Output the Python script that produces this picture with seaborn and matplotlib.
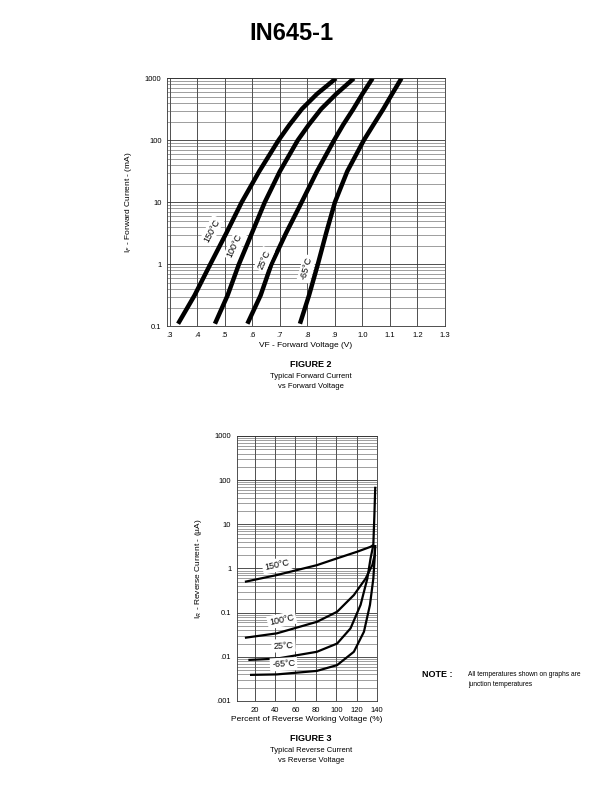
import matplotlib
matplotlib.use('Agg')
import matplotlib.pyplot as plt
import matplotlib.ticker as mticker
import seaborn as sns
import pandas as pd

# Figure 2: forward current vs forward voltage
fwd_temps = ['150°C', '100°C', '25°C', '-65°C']
fwd_current = [0.11, 0.316, 1, 3.16, 10, 31.6, 100, 178, 320, 560, 1000]
fwd_v = {
    '150°C': [0.330, 0.39, 0.447, 0.505, 0.561, 0.625, 0.695, 0.735, 0.78, 0.835, 0.904],
    '100°C': [0.464, 0.51, 0.551, 0.598, 0.645, 0.70, 0.765, 0.805, 0.85, 0.905, 0.969],
    '25°C': [0.582, 0.63, 0.669, 0.722, 0.779, 0.835, 0.897, 0.93, 0.967, 1.0, 1.037],
    '-65°C': [0.773, 0.806, 0.838, 0.868, 0.90, 0.945, 1.005, 1.04, 1.076, 1.108, 1.142],
}
fwd_i = {t: fwd_current for t in fwd_temps}
fwd_xticks = [0.3, 0.4, 0.5, 0.6, 0.7, 0.8, 0.9, 1.0, 1.1, 1.2, 1.3]
fwd_xticklabels = ['.3', '.4', '.5', '.6', '.7', '.8', '.9', '1.0', '1.1', '1.2', '1.3']
fwd_yticks = [0.1, 1, 10, 100, 1000]
fwd_yticklabels = ['0.1', '1', '10', '100', '1000']
fwd_label_pos = {'150°C': (0.452, 3.5, 62), '100°C': (0.536, 2.0, 65),
                 '25°C': (0.643, 1.19, 66), '-65°C': (0.797, 0.85, 74)}

# Figure 3: reverse current vs percent of reverse working voltage
rev_pct = {
    '150°C': [10.4, 41.7, 81, 100.9, 120.6, 133.7, 136.4],
    '100°C': [10.4, 41.7, 81, 100.9, 117.3, 128.8, 135.4, 137.7, 138.2],
    '25°C': [13.8, 41.7, 81, 100.9, 114, 123.9, 130.5, 133.7, 136.4, 137.4, 138.3],
    '-65°C': [15.4, 41.7, 81, 100.9, 117.3, 127.2, 133.1, 136.4, 137.7, 138.2],
}
rev_i = {
    '150°C': [0.50, 0.71, 1.19, 1.7, 2.4, 3.1, 3.4],
    '100°C': [0.027, 0.034, 0.062, 0.105, 0.25, 0.59, 1.19, 2.0, 3.4],
    '25°C': [0.0085, 0.0091, 0.013, 0.020, 0.044, 0.15, 0.59, 1.7, 3.4, 15, 71],
    '-65°C': [0.0039, 0.0040, 0.0048, 0.0065, 0.013, 0.037, 0.15, 0.59, 1.7, 3.4],
}
rev_xticks = [20, 40, 60, 80, 100, 120, 140]
rev_yticks = [0.001, 0.01, 0.1, 1, 10, 100, 1000]
rev_yticklabels = ['.001', '.01', '0.1', '1', '10', '100', '1000']
rev_label_pos = {'150°C': (41.7, 1.19, 12), '100°C': (46.6, 0.068, 12),
                 '25°C': (48.3, 0.018, 3), '-65°C': (48.3, 0.0068, 3)}

sns.set_style('white')
plt.rcParams['font.family'] = ['Liberation Sans', 'DejaVu Sans']
plt.rcParams['text.color'] = 'black'
plt.rcParams['axes.labelcolor'] = 'black'
plt.rcParams['xtick.color'] = 'black'
plt.rcParams['ytick.color'] = 'black'
plt.rcParams['lines.solid_joinstyle'] = 'round'
plt.rcParams['lines.solid_capstyle'] = 'butt'


def long_df(xs, ys, xname, yname):
    rows = []
    for t in fwd_temps:
        for x, y in zip(xs[t], ys[t]):
            rows.append({xname: x, yname: y, 'temp': t})
    return pd.DataFrame(rows)


def style_log_axes(ax):
    ax.set_yscale('log')
    ax.yaxis.set_minor_locator(mticker.LogLocator(base=10, subs=range(2, 10)))
    ax.yaxis.set_minor_formatter(mticker.NullFormatter())
    ax.grid(True, which='major', axis='both', color='#333333', lw=0.6)
    ax.grid(True, which='minor', axis='y', color='#555555', lw=0.4)
    ax.tick_params(axis='both', which='both', length=0, labelsize=5.5, pad=4)
    for s in ax.spines.values():
        s.set_color('#333333')
        s.set_linewidth(0.6)


fig = plt.figure(figsize=(6.12, 7.92), dpi=100)
fig.text(0.477, 0.958, 'IN645-1', ha='center', va='center', fontsize=17, fontweight='bold')

# top chart
ax1 = fig.add_axes([0.273, 0.588, 0.454, 0.3131])
df1 = long_df(fwd_v, fwd_i, 'v', 'i')
sns.lineplot(data=df1, x='v', y='i', units='temp', estimator=None, sort=False,
             color='black', lw=3.2, ax=ax1, legend=False)
style_log_axes(ax1)
ax1.set_xlim(0.29, 1.3)
ax1.set_ylim(0.1, 1000)
ax1.set_xticks(fwd_xticks)
ax1.set_xticklabels(fwd_xticklabels)
ax1.set_yticks(fwd_yticks)
ax1.set_yticklabels(fwd_yticklabels)
ax1.set_xlabel('VF - Forward Voltage (V)', fontsize=6, labelpad=2)
ax1.set_ylabel('I$_F$ - Forward Current - (mA)', fontsize=6, labelpad=8)
for t, (x, y, r) in fwd_label_pos.items():
    ax1.text(x, y, t, rotation=r, fontsize=6.5, ha='center', va='center',
             bbox=dict(facecolor='white', edgecolor='none', pad=1.5))

fig.text(0.508, 0.540, 'FIGURE 2', ha='center', va='center', fontsize=6.5, fontweight='bold')
fig.text(0.508, 0.525, 'Typical Forward Current', ha='center', va='center', fontsize=5.5)
fig.text(0.508, 0.512, 'vs Forward Voltage', ha='center', va='center', fontsize=5.5)

# bottom chart
ax2 = fig.add_axes([0.387, 0.1149, 0.229, 0.3346])
df2 = long_df(rev_pct, rev_i, 'pct', 'i')
sns.lineplot(data=df2, x='pct', y='i', units='temp', estimator=None, sort=False,
             color='black', lw=1.6, ax=ax2, legend=False)
style_log_axes(ax2)
ax2.set_xlim(2.5, 140)
ax2.set_ylim(0.001, 1000)
ax2.set_xticks(rev_xticks)
ax2.set_yticks(rev_yticks)
ax2.set_yticklabels(rev_yticklabels)
ax2.set_xlabel('Percent of Reverse Working Voltage (%)', fontsize=6, labelpad=2)
ax2.set_ylabel('I$_R$ - Reverse Current - (µA)', fontsize=6, labelpad=8)
for t, (x, y, r) in rev_label_pos.items():
    ax2.text(x, y, t, rotation=r, fontsize=6.5, ha='center', va='center',
             bbox=dict(facecolor='white', edgecolor='none', pad=1.5))

fig.text(0.508, 0.067, 'FIGURE 3', ha='center', va='center', fontsize=6.5, fontweight='bold')
fig.text(0.508, 0.053, 'Typical Reverse Current', ha='center', va='center', fontsize=5.5)
fig.text(0.508, 0.040, 'vs Reverse Voltage', ha='center', va='center', fontsize=5.5)

fig.text(0.689, 0.148, 'NOTE :', ha='left', va='center', fontsize=6.5, fontweight='bold')
fig.text(0.765, 0.148, 'All temperatures shown on graphs are', ha='left', va='center', fontsize=4.8)
fig.text(0.765, 0.136, 'junction temperatures', ha='left', va='center', fontsize=4.8)

plt.savefig('out.png', dpi=100)
